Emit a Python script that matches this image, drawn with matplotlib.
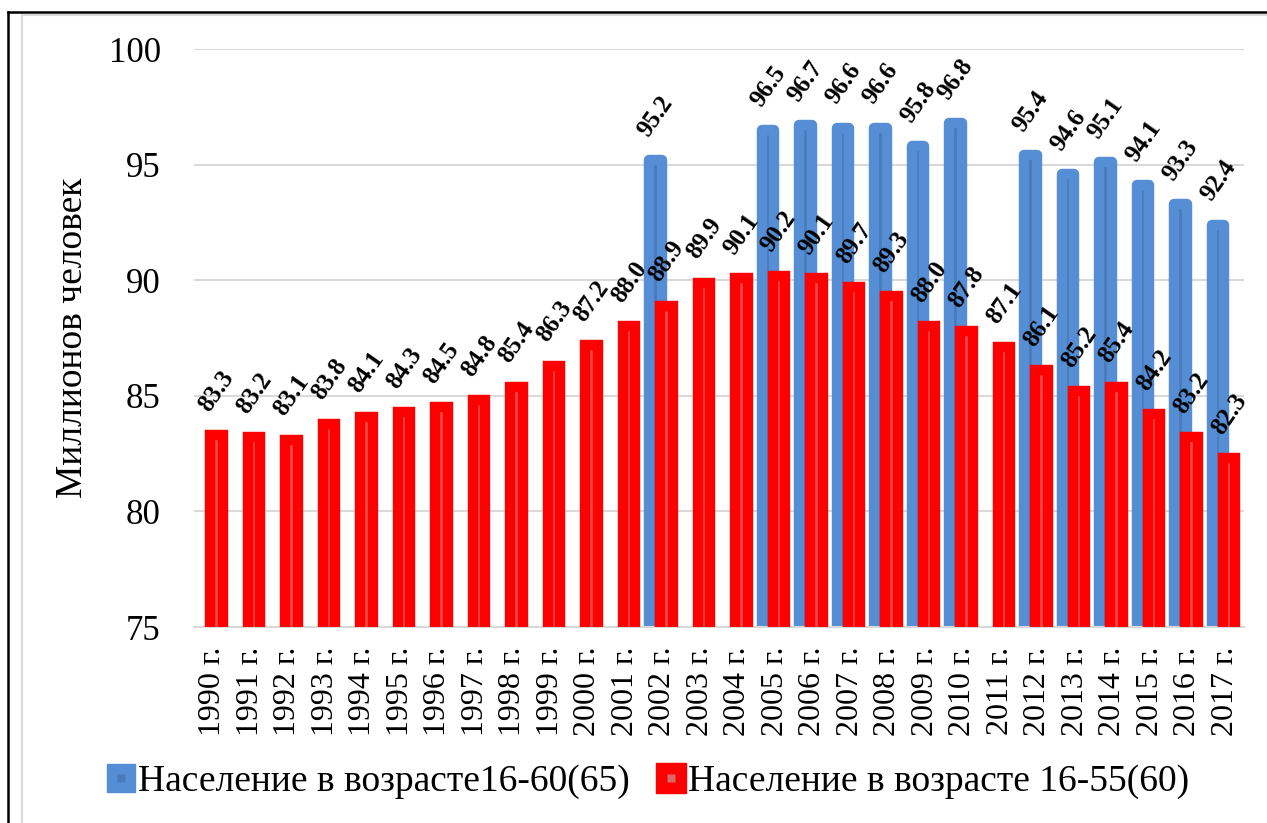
import numpy as np
import matplotlib.pyplot as plt
from matplotlib.lines import Line2D
from matplotlib.legend_handler import HandlerTuple

plt.rcParams['font.family'] = ['Liberation Serif', 'DejaVu Serif']

# ---------------------------------------------------------------------
# Данные (млн человек)
# ---------------------------------------------------------------------
gody = ["1990 г.", "1991 г.", "1992 г.", "1993 г.", "1994 г.", "1995 г.",
        "1996 г.", "1997 г.", "1998 г.", "1999 г.", "2000 г.", "2001 г.",
        "2002 г.", "2003 г.", "2004 г.", "2005 г.", "2006 г.", "2007 г.",
        "2008 г.", "2009 г.", "2010 г.", "2011 г.", "2012 г.", "2013 г.",
        "2014 г.", "2015 г.", "2016 г.", "2017 г."]

nas_16_60 = [np.nan, np.nan, np.nan, np.nan, np.nan, np.nan, np.nan,
             np.nan, np.nan, np.nan, np.nan, np.nan, 95.2, np.nan, np.nan,
             96.5, 96.7, 96.6, 96.6, 95.8, 96.8, np.nan, 95.4, 94.6, 95.1,
             94.1, 93.3, 92.4]

nas_16_55 = [83.3, 83.2, 83.1, 83.8, 84.1, 84.3, 84.5, 84.8, 85.4, 86.3,
             87.2, 88.0, 88.9, 89.9, 90.1, 90.2, 90.1, 89.7, 89.3, 88.0,
             87.8, 87.1, 86.1, 85.2, 85.4, 84.2, 83.2, 82.3]

legenda = ["Население в возрасте16-60(65)", "Население в возрасте 16-55(60)"]

# ---------------------------------------------------------------------
# Стиль
# ---------------------------------------------------------------------
SIN_KRAY, SIN_FON = "#558ED5", "#4A7AB8"
KRAS_KRAY, KRAS_FON = "#FF0000", "#EE4C4C"
SETKA = "#D9D9D9"

fig = plt.figure(figsize=(12.67, 8.23), dpi=100)
ax = fig.add_axes([194 / 1267, 1 - 627 / 823, 1050 / 1267, 578 / 823])

x = np.arange(len(gody))
shir = 0.333
lw = 7.5

ax.bar(x - 0.19, nas_16_60, width=shir, color=SIN_FON, edgecolor=SIN_KRAY,
       linewidth=lw, joinstyle="round", zorder=2)
ax.bar(x + 0.10, nas_16_55, width=shir, color=KRAS_FON, edgecolor=KRAS_KRAY,
       linewidth=lw, joinstyle="miter", zorder=3)

def podpisi(xs, vals):
    for xi, v in zip(xs, vals):
        if np.isnan(v):
            continue
        ax.annotate(f"{v:.1f}", (xi, v), xytext=(0, 14), textcoords="offset points",
                    rotation=55, ha="center", va="bottom", fontsize=18,
                    fontweight="bold", annotation_clip=False, zorder=5)

podpisi(x - 0.19, nas_16_60)
podpisi(x + 0.10, nas_16_55)

ax.set_xlim(-0.5, len(gody) - 0.5)
ax.set_ylim(75, 100)
ax.set_yticks([75, 80, 85, 90, 95, 100])
ax.set_xticks(x)
ax.set_xticklabels(gody, rotation=90, fontsize=23)
ax.tick_params(axis="x", length=0, pad=14)
ax.tick_params(axis="y", length=0, pad=24, labelsize=25)

ax.grid(axis="y", color=SETKA, lw=1.5)
ax.set_axisbelow(True)
for s in ("left", "top", "right"):
    ax.spines[s].set_visible(False)
ax.spines["bottom"].set_color(SETKA)
ax.spines["bottom"].set_linewidth(1.5)

ax.set_ylabel("Миллионов человек", fontsize=27)
ax.yaxis.set_label_coords(-0.099, 0.5)

# легенда
h_sin = (Line2D([], [], ls="none", marker="s", markersize=20, mfc=SIN_KRAY, mec=SIN_KRAY),
         Line2D([], [], ls="none", marker="s", markersize=6, mfc=SIN_FON, mec="none"))
h_kras = (Line2D([], [], ls="none", marker="s", markersize=21, mfc=KRAS_KRAY, mec=KRAS_KRAY),
          Line2D([], [], ls="none", marker="s", markersize=6, mfc="#D86A6A", mec="none"))
fig.legend([h_sin, h_kras], legenda, handler_map={tuple: HandlerTuple(ndivide=1, pad=0)},
           loc="center", bbox_to_anchor=(648 / 1267, 1 - 782 / 823), ncol=2,
           frameon=False, fontsize=27, handlelength=0.75, handletextpad=0.1,
           columnspacing=0.7)

# рамка
fig.add_artist(Line2D([21.5 / 1267, 21.5 / 1267], [0, 1 - 15 / 823], color=SETKA, lw=1.5,
                      transform=fig.transFigure))
fig.add_artist(Line2D([21.5 / 1267, 1.0], [1 - 15 / 823, 1 - 15 / 823], color=SETKA, lw=1.5,
                      transform=fig.transFigure))
fig.add_artist(Line2D([8 / 1267, 8 / 1267], [0, 1 - 12 / 823], color="black", lw=1.8,
                      transform=fig.transFigure))
fig.add_artist(Line2D([8 / 1267, 1.0], [1 - 12 / 823, 1 - 12 / 823], color="black", lw=1.8,
                      transform=fig.transFigure))

fig.savefig("out.png", dpi=100)
